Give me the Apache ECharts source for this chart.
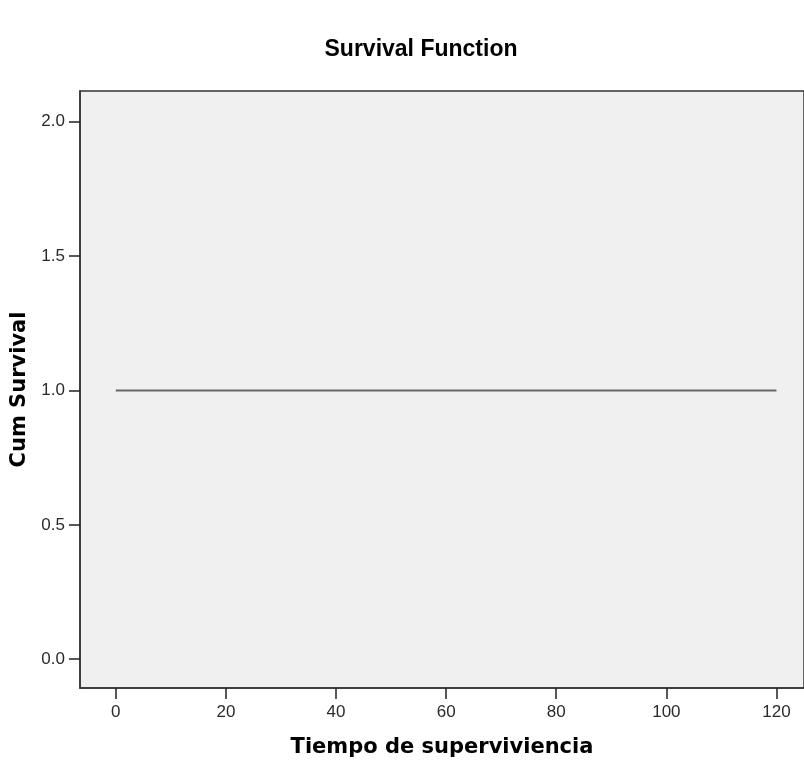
<!DOCTYPE html>
<html>
<head>
<meta charset="utf-8">
<script src="https://cdn.jsdelivr.net/npm/echarts@6/dist/echarts.min.js"></script>
<style>html,body{margin:0;padding:0;background:#fff;}#c{width:804px;height:763px;}</style>
</head>
<body>
<div id="c"></div>
<script>
var timeValues = [0, 120];
var survivalValues = [1.0, 1.0];
var xTicks = [0, 20, 40, 60, 80, 100, 120];
var yTicks = [0.0, 0.5, 1.0, 1.5, 2.0];

var chart = echarts.init(document.getElementById('c'), null, {renderer: 'canvas'});
var FONT = '"Liberation Sans", Arial, sans-serif';
var FONT2 = '"DejaVu Sans", Verdana, sans-serif';
chart.setOption({
  animation: false,
  backgroundColor: '#ffffff',
  title: {
    text: 'Survival Function',
    left: 416, top: 33, textAlign: 'center',
    textStyle: {fontFamily: FONT, fontSize: 23, fontWeight: 'bold', color: '#000'}
  },
  grid: {
    left: 80, right: 0, top: 91, bottom: 75,
    outerBoundsMode: 'none', containLabel: false,
    show: true, backgroundColor: '#f0f0f0', borderColor: '#333', borderWidth: 1.5
  },
  xAxis: {
    type: 'value', min: -6.5, max: 125, interval: 20,
    name: 'Tiempo de superviviencia', nameLocation: 'middle', nameGap: 49,
    nameTextStyle: {fontFamily: FONT2, fontSize: 21, fontWeight: 'bold', color: '#000'},
    axisLine: {show: true, onZero: false, lineStyle: {color: '#333', width: 1.5}},
    axisTick: {show: true, length: 11, lineStyle: {color: '#222', width: 1.5}, customValues: xTicks},
    axisLabel: {fontFamily: FONT, fontSize: 17, color: '#2a2a2a', margin: 16, customValues: xTicks},
    splitLine: {show: false}
  },
  yAxis: {
    type: 'value', min: -0.107, max: 2.114,
    name: 'Cum Survival', nameLocation: 'middle', nameGap: 46,
    nameTextStyle: {fontFamily: FONT2, fontSize: 21, fontWeight: 'bold', color: '#000'},
    axisLine: {show: true, onZero: false, lineStyle: {color: '#333', width: 1.5}},
    axisTick: {show: true, length: 11, lineStyle: {color: '#222', width: 1.5}, customValues: yTicks},
    axisLabel: {fontFamily: FONT, fontSize: 17, color: '#2a2a2a', margin: 15, customValues: yTicks,
      formatter: function (v) { return v.toFixed(1); }},
    splitLine: {show: false}
  },
  series: [{
    type: 'line',
    data: timeValues.map(function (t, i) { return [t, survivalValues[i]]; }),
    symbol: 'none',
    lineStyle: {color: '#666666', width: 2}
  }]
});
</script>
</body>
</html>
